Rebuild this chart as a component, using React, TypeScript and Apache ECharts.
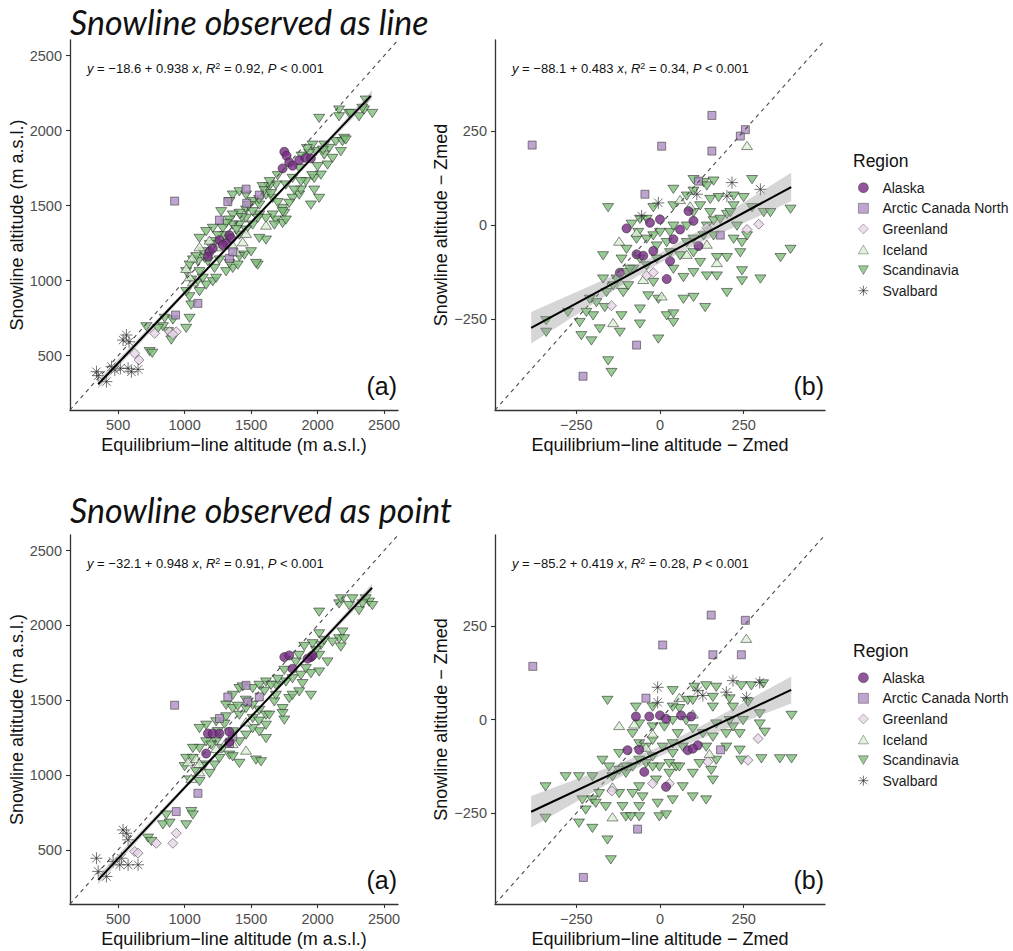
import React, { useEffect, useRef } from 'react';
import * as echarts from 'echarts';

const REGIONS = ['Alaska', 'Arctic Canada North', 'Greenland', 'Iceland', 'Scandinavia', 'Svalbard'];
const ABS_TICKS = [500, 1000, 1500, 2000, 2500];
const REL_TICKS = [-250, 0, 250];

// ---------- Snowline observed as line: absolute (a) ----------
const lineAbsAlaska = [[1750,1860],[1767,1833],[1787,1789],[1812,1767],[1737,1749],[1862,1804],[1912,1820],[1950,1816],[1187,1193],[1212,1216],[1262,1271],[1337,1304],[1350,1282],[1312,1249],[1175,1160],[1287,1238]];
const lineAbsArctic = [[925,1531],[932,771],[1100,849],[1262,1404],[1325,1527],[1462,1611],[1467,1516],[1562,1571],[1337,1149],[1362,1193]];
const lineAbsGreenland = [[625,516],[657,471],[775,649],[887,660],[937,660],[912,642]];
const lineAbsIceland = [[1057,1153],[1112,1227],[1187,1271],[1250,1227],[1362,1238],[1437,1260],[1387,1193],[1012,1082],[1062,993],[1037,1027],[1462,1316],[1612,1371]];
const lineAbsScandinavia = [[712,693],[737,527],[757,516],[875,660],[900,604],[1012,682],[837,693],[850,749],[800,682],[912,738],[1037,749],[1050,838],[1037,893],[1012,927],[1112,927],[1087,982],[1162,971],[1112,1060],[1012,1060],[1050,1004],[1137,1016],[1212,993],[1237,1016],[1225,1082],[1312,1060],[1362,1082],[1400,1104],[1450,1171],[1550,1104],[1537,1115],[1612,1271],[1687,1404],[1737,1382],[1750,1449],[1737,1482],[1662,1438],[1812,1549],[1862,1571],[1950,1504],[1875,1604],[1912,1660],[1975,1682],[2025,1704],[2075,1771],[2000,1760],[1987,1860],[2050,1904],[2137,1927],[2187,1927],[2012,2082],[2162,2138],[2237,2115],[2312,2093],[2350,2138],[2412,2115],[2362,2204],[2162,2093],[2200,1949],[2175,1860],[2087,1882],[1962,1904],[1937,1849],[1862,1749],[1812,1682],[1762,1638],[1687,1638],[1637,1627],[1587,1627],[1612,1571],[1562,1504],[1512,1527],[1462,1471],[1412,1449],[1362,1438],[1337,1404],[1412,1371],[1462,1416],[1562,1438],[1612,1416],[1737,1460],[1762,1404],[1512,1371],[1462,1338],[1412,1304],[1362,1371],[1312,1382],[1287,1349],[1212,1349],[1162,1327],[1112,1282],[1062,1138],[1100,1127],[1037,1104],[1175,1127],[1262,1138],[1337,1115],[1412,1160],[1500,1193],[1562,1282],[1662,1549],[1362,1571],[1412,1593],[1462,1571],[1337,1527],[1275,1460],[1512,1460],[1550,1416],[1675,1371],[1787,1516],[1825,1604],[1875,1660],[2012,1549],[1975,1604],[2050,1838],[2112,1816],[2212,1938],[2250,2115],[2337,2149],[1225,1260],[1137,1193],[1087,1160],[1600,1600],[1650,1580],[1700,1520],[1560,1540],[1480,1500],[1430,1420],[1390,1340],[1300,1300],[1250,1300],[1190,1240],[1150,1150],[1920,1880],[1880,1830],[2040,1870],[1700,1700],[1640,1660],[1960,1700]];
const lineAbsSvalbard = [[562,638],[537,604],[582,593],[450,427],[475,404],[337,393],[350,367],[412,327],[517,416],[600,393],[650,409],[575,416]];

// ---------- Snowline observed as line: relative (b) ----------
const lineRelAlaska = [[-100,-9],[-30,6],[0,15],[85,37],[100,11],[115,-56],[-70,-78],[-50,-82],[-20,-69],[-120,-127],[20,-144],[60,-12],[30,-96],[40,-38]];
const lineRelArctic = [[-382,213],[5,210],[155,292],[155,197],[240,237],[255,254],[115,117],[-45,82],[-70,-320],[-230,-403],[180,-27]];
const lineRelGreenland = [[-145,-215],[-40,-135],[-20,-127],[140,-7],[260,-12],[295,2]];
const lineRelIceland = [[260,212],[60,68],[-70,-20],[-122,-43],[-140,-260],[5,-189],[140,-51],[170,-100],[80,-78],[-50,-145],[90,51],[-115,-158]];
const lineRelScandinavia = [[-155,46],[-170,-82],[-340,-255],[-340,-286],[-275,-233],[-240,-260],[-235,-295],[-205,-309],[-200,-242],[-180,-277],[-165,-220],[-155,-362],[-145,-393],[-120,-286],[-115,-242],[-110,-180],[-170,-144],[-95,-162],[-80,-118],[-60,-91],[-60,-224],[-60,-264],[-35,-189],[-5,-198],[-5,-304],[20,-242],[40,-237],[40,-260],[-70,-38],[-100,-65],[-20,-29],[30,-20],[20,-47],[40,51],[80,77],[100,90],[130,113],[160,117],[175,73],[200,28],[220,51],[250,73],[275,121],[275,46],[310,33],[330,33],[390,42],[390,-65],[360,-87],[300,-144],[245,-122],[245,-149],[200,-180],[170,-136],[170,-87],[200,-87],[240,-74],[245,-47],[260,-29],[220,-38],[140,-136],[135,-220],[100,-193],[100,-127],[70,-140],[100,-74],[130,-29],[160,-29],[160,11],[120,51],[-20,46],[-40,15],[-65,-20],[-100,-127],[-140,-162],[-115,-91],[40,-118],[80,-3],[150,68],[230,-3],[120,-100],[70,-198],[-20,-153],[-85,2],[-60,15],[-40,-38],[0,-20],[40,-3],[80,-47],[30,-74],[-10,-91],[-40,-109],[-90,-118],[-130,-144],[-160,-180],[-190,-207],[-220,-233],[-210,-198],[-10,-56],[60,-82],[100,-38],[140,-3],[150,33],[180,15],[210,33],[220,77],[100,33],[40,95],[100,121],[140,104]];
const lineRelSvalbard = [[-55,24],[-5,59],[215,113],[300,95],[200,77],[110,82]];

// ---------- Snowline observed as point: absolute (a) ----------
const pointAbsAlaska = [[1175,1278],[1212,1278],[1262,1278],[1337,1289],[1162,1144],[1337,1222],[1750,1789],[1787,1800],[1812,1711],[1950,1789],[1962,1800],[1925,1778]];
const pointAbsArctic = [[925,1467],[937,756],[1100,878],[1262,1378],[1325,1522],[1462,1600],[1475,1489],[1337,1211],[1362,1256],[1562,1522]];
const pointAbsGreenland = [[625,489],[650,478],[787,544],[912,544],[937,611]];
const pointAbsIceland = [[1025,1089],[1087,1111],[1237,1178],[1362,1211],[1462,1167],[1050,978],[1112,1078],[1462,1356],[1312,1222],[1112,1022]];
const pointAbsScandinavia = [[725,578],[750,556],[837,667],[887,678],[862,733],[1012,667],[1050,756],[1062,733],[1037,967],[1087,1022],[1187,1011],[1150,1067],[1112,956],[1225,1067],[1262,1111],[1337,1133],[1412,1078],[1362,1122],[1537,1100],[1575,1089],[1612,1244],[1675,1489],[1737,1444],[1737,1411],[1750,1367],[1787,1511],[1862,1556],[1950,1533],[1887,1611],[1950,1678],[2012,1689],[2075,1756],[2012,1800],[2025,1867],[2162,1911],[2175,1856],[2187,1956],[2012,2089],[2162,2144],[2237,2133],[2312,2100],[2387,2156],[2412,2133],[1512,1578],[1512,1467],[1412,1578],[1362,1533],[1312,1467],[1362,1444],[1462,1444],[1562,1433],[1612,1400],[1412,1400],[1312,1389],[1237,1356],[1162,1333],[1112,1311],[1162,1222],[1237,1222],[1287,1178],[1112,1178],[1062,1178],[1012,1111],[1412,1222],[1462,1267],[1562,1289],[1612,1333],[1637,1400],[1562,1600],[1612,1622],[1687,1600],[1762,1622],[1812,1644],[1837,1756],[1875,1667],[1912,1711],[1812,1533],[1987,1833],[2112,1889],[2200,1911],[2362,2178],[2337,2144],[2262,2178],[2175,2178],[1962,1878],[2012,1944],[1362,1289],[1512,1311],[1512,1378],[1687,1533],[1437,1589],[1062,1111],[1000,1056],[1137,1056],[1600,1560],[1650,1600],[1700,1640],[1460,1500],[1400,1460],[1300,1340],[1250,1290],[1200,1200],[1900,1860],[1860,1800],[1750,1700],[1560,1360],[2050,1900]];
const pointAbsSvalbard = [[337,444],[562,611],[537,633],[575,567],[350,356],[412,322],[462,422],[512,400],[575,400],[650,400],[525,444]];

// ---------- Snowline observed as point: relative (b) ----------
const pointRelAlaska = [[-72,8],[-32,8],[0,11],[18,2],[63,11],[93,8],[-97,-82],[-62,-81],[-47,-140],[18,-180],[83,-82],[113,-69],[98,-78]];
const pointRelArctic = [[-380,142],[8,199],[153,279],[158,173],[243,173],[255,265],[-42,57],[181,-81],[-67,-293],[-229,-422]];
const pointRelGreenland = [[-144,-191],[-22,-171],[28,-171],[143,-113],[293,-51],[263,-109]];
const pointRelIceland = [[258,217],[-122,-16],[-77,-12],[58,59],[-22,-38],[-42,-74],[-142,-180],[-142,-260],[98,15],[148,-91]];
const pointRelScandinavia = [[-157,51],[-342,-180],[-342,-264],[-282,-153],[-242,-153],[-202,-153],[-202,-215],[-192,-224],[-242,-277],[-202,-291],[-157,-322],[-147,-375],[-102,-260],[-112,-233],[-87,-260],[-62,-260],[-62,-233],[-52,-207],[-7,-224],[-2,-260],[18,-255],[38,-215],[98,-207],[138,-215],[-62,-180],[-102,-144],[-82,-127],[-172,-109],[-152,-127],[-122,-136],[-42,-118],[-22,-100],[28,-118],[48,-127],[68,-180],[98,-144],[118,-118],[153,-136],[158,-162],[168,-109],[198,-74],[238,-82],[243,-109],[238,-38],[218,-20],[248,-3],[298,15],[298,-12],[313,-34],[358,-105],[393,-105],[393,11],[303,-105],[273,90],[308,95],[263,46],[243,90],[208,55],[168,86],[158,59],[138,90],[103,86],[83,51],[58,29],[38,33],[-22,33],[-72,33],[13,-20],[53,-38],[38,-65],[68,-74],[138,-74],[128,-38],[168,-12],[208,-3],[-82,-38],[-122,-91],[-62,-65],[-22,-56],[-2,-127],[-12,-162],[28,-144],[-82,-198],[-122,-198],[-232,-215],[98,-25],[158,-47],[-62,-12],[-22,-20],[38,-3],[78,-3],[-42,-74],[8,-74],[38,-91],[-102,-127],[-142,-153],[-182,-198],[-162,-233],[-222,-242],[98,51],[38,77],[158,33],[218,33],[-62,-109],[-22,-127],[58,-127],[198,-38]];
const pointRelSvalbard = [[-7,86],[-7,46],[218,104],[298,99],[198,73],[113,77],[128,64],[258,59]];

// fitted lines (coefficients as printed), x-extent of the fit, and read-off confidence half-widths
const fitIntercepts = [-18.6, -88.1, -32.1, -85.2];
const fitSlopes = [0.938, 0.483, 0.948, 0.419];
const fitRanges = [[350, 2400], [-385, 392], [350, 2410], [-385, 392]];
const bandXsAbs = [350, 1000, 1500, 2000, 2410];
const bandHwLineAbs = [30, 14, 10, 14, 28];
const bandHwPointAbs = [30, 14, 10, 14, 28];
const bandXsRel = [-385, -250, -125, 0, 125, 250, 392];
const bandHwLineRel = [42, 30, 19, 13, 17, 27, 38];
const bandHwPointRel = [42, 30, 19, 13, 17, 26, 36];

const eqTexts = [
  '{i|y} = −18.6 + 0.938 {i|x}, {i|R}{s|2} = 0.92, {i|P} < 0.001',
  '{i|y} = −88.1 + 0.483 {i|x}, {i|R}{s|2} = 0.34, {i|P} < 0.001',
  '{i|y} = −32.1 + 0.948 {i|x}, {i|R}{s|2} = 0.91, {i|P} < 0.001',
  '{i|y} = −85.2 + 0.419 {i|x}, {i|R}{s|2} = 0.28, {i|P} < 0.001',
];
const panelTags = ['(a)', '(b)', '(a)', '(b)'];
const blockTitles = ['Snowline observed as line', 'Snowline observed as point'];

const FONT = '"Liberation Sans", Arial, Helvetica, sans-serif';
const TRI_DOWN = 'path://M0 0 L10 0 L5 8.66 Z';
const TRI_UP = 'path://M5 0 L10 8.66 L0 8.66 Z';
const ASTER = 'path://M5 0 L5 10 M0 5 L10 5 M1.46 1.46 L8.54 8.54 M8.54 1.46 L1.46 8.54';

const REGION_STYLE: Record<string, any> = {
  Alaska: { symbol: 'circle', size: 9, color: '#762A83', border: '#222' },
  'Arctic Canada North': { symbol: 'rect', size: 8, color: '#AF8DC3', border: '#333' },
  Greenland: { symbol: 'diamond', size: 10, color: '#E7D4E8', border: '#444' },
  Iceland: { symbol: TRI_UP, size: [11, 9.5], color: '#D9F0D3', border: '#333' },
  Scandinavia: { symbol: TRI_DOWN, size: [11, 9.5], color: '#7FBF7B', border: '#222' },
  Svalbard: { symbol: ASTER, size: 12, color: 'rgba(0,0,0,0)', border: '#222' },
};
const DRAW_ORDER = ['Scandinavia', 'Iceland', 'Greenland', 'Arctic Canada North', 'Alaska', 'Svalbard'];

export default function App() {
  const ref = useRef<HTMLDivElement>(null);
  useEffect(() => {
    const chart = echarts.init(ref.current!, null, { renderer: 'svg' });
    const panels = [
      { grid: { left: 70, top: 40, width: 328, height: 370 }, abs: true, data: { Alaska: lineAbsAlaska, 'Arctic Canada North': lineAbsArctic, Greenland: lineAbsGreenland, Iceland: lineAbsIceland, Scandinavia: lineAbsScandinavia, Svalbard: lineAbsSvalbard }, bandHw: bandHwLineAbs },
      { grid: { left: 495, top: 40, width: 330, height: 370 }, abs: false, data: { Alaska: lineRelAlaska, 'Arctic Canada North': lineRelArctic, Greenland: lineRelGreenland, Iceland: lineRelIceland, Scandinavia: lineRelScandinavia, Svalbard: lineRelSvalbard }, bandHw: bandHwLineRel },
      { grid: { left: 70, top: 535, width: 328, height: 369 }, abs: true, data: { Alaska: pointAbsAlaska, 'Arctic Canada North': pointAbsArctic, Greenland: pointAbsGreenland, Iceland: pointAbsIceland, Scandinavia: pointAbsScandinavia, Svalbard: pointAbsSvalbard }, bandHw: bandHwPointAbs },
      { grid: { left: 495, top: 535, width: 330, height: 369 }, abs: false, data: { Alaska: pointRelAlaska, 'Arctic Canada North': pointRelArctic, Greenland: pointRelGreenland, Iceland: pointRelIceland, Scandinavia: pointRelScandinavia, Svalbard: pointRelSvalbard }, bandHw: bandHwPointRel },
    ];
    const fmt = (v: number) => (v < 0 ? '−' + Math.abs(v) : String(v));
    const axisCommon = (i: number, abs: boolean, isX: boolean) => {
      const ticks = abs ? ABS_TICKS : REL_TICKS;
      return {
        type: 'value',
        gridIndex: i,
        min: abs ? 138 : -493,
        max: abs ? 2605 : 493,
        axisLine: { show: true, onZero: false, lineStyle: { color: '#333', width: 1.3 } },
        axisTick: { show: true, length: 4, customValues: ticks, lineStyle: { color: '#333', width: 1.1 } },
        axisLabel: { customValues: ticks, formatter: fmt, color: '#4d4d4d', fontSize: 14.5, fontFamily: FONT, margin: isX ? 7 : 8 },
        splitLine: { show: false },
        nameLocation: 'middle',
        nameTextStyle: { fontSize: 18, color: '#111', fontFamily: FONT },
      };
    };
    const xAxis = panels.map((p, i) => ({
      ...axisCommon(i, p.abs, true),
      name: p.abs ? 'Equilibrium−line altitude (m a.s.l.)' : 'Equilibrium−line altitude − Zmed',
      nameGap: 26,
    }));
    const yAxis = panels.map((p, i) => ({
      ...axisCommon(i, p.abs, false),
      name: p.abs ? 'Snowline altitude (m a.s.l.)' : 'Snowline altitude − Zmed',
      nameGap: p.abs ? 44 : 38,
    }));
    const series: any[] = [];
    panels.forEach((p, i) => {
      DRAW_ORDER.forEach((r) => {
        const st = REGION_STYLE[r];
        series.push({
          type: 'scatter', name: r, xAxisIndex: i, yAxisIndex: i, z: 2,
          symbol: st.symbol, symbolSize: st.size, symbolKeepAspect: true,
          itemStyle: { color: st.color, borderColor: st.border, borderWidth: r === 'Svalbard' ? 0.8 : 0.7, opacity: 0.8 },
          data: (p.data as any)[r],
        });
      });
      const lo = p.abs ? 138 : -493;
      const hi = p.abs ? 2605 : 493;
      series.push({
        type: 'line', xAxisIndex: i, yAxisIndex: i, z: 3, symbol: 'none', silent: true,
        lineStyle: { color: '#4a4a4a', width: 1.1, type: [4, 4] },
        data: [[lo, lo], [hi, hi]],
      });
      const a = fitIntercepts[i], b = fitSlopes[i];
      const bxs = p.abs ? bandXsAbs : bandXsRel;
      const hw = p.bandHw;
      series.push({
        type: 'custom', xAxisIndex: i, yAxisIndex: i, z: 4, silent: true,
        data: [[bxs[0], a + b * bxs[0]]],
        renderItem: (_params: any, api: any) => {
          const up = bxs.map((x, j) => api.coord([x, a + b * x + hw[j]]));
          const dn = bxs.map((x, j) => api.coord([x, a + b * x - hw[j]])).reverse();
          return { type: 'polygon', shape: { points: up.concat(dn) }, style: { fill: 'rgba(153,153,153,0.4)' } };
        },
      });
      const [x0, x1] = fitRanges[i];
      series.push({
        type: 'line', xAxisIndex: i, yAxisIndex: i, z: 5, symbol: 'none', silent: true,
        lineStyle: { color: '#000', width: 2 },
        data: [[x0, a + b * x0], [x1, a + b * x1]],
      });
    });

    const graphic: any[] = [];
    blockTitles.forEach((t, k) => {
      graphic.push({ type: 'text', x: 70, y: 21 + 488 * k, style: { text: t, fontFamily: 'Lato, "Open Sans", sans-serif', fontStyle: 'italic', fontSize: 34, fill: '#111', verticalAlign: 'middle', align: 'left' } });
      graphic.push({ type: 'text', x: 853, y: 161 + 490 * k, style: { text: 'Region', fontFamily: FONT, fontSize: 17.5, fill: '#111', verticalAlign: 'middle', align: 'left' } });
    });
    panels.forEach((p, i) => {
      const top = p.grid.top;
      graphic.push({
        type: 'text', x: p.grid.left + 17, y: top + 28,
        style: {
          text: eqTexts[i], fontFamily: FONT, fontSize: 13, fill: '#111', verticalAlign: 'middle', align: 'left',
          rich: {
            i: { fontStyle: 'italic', fontFamily: FONT, fontSize: 13, fill: '#111' },
            s: { fontSize: 9, fontFamily: FONT, fill: '#111', verticalAlign: 'top', padding: [0, 0, 4, 0] },
          },
        },
      });
      graphic.push({
        type: 'text', x: p.grid.left + p.grid.width - 1, y: top + p.grid.height - 24,
        style: { text: panelTags[i], fontFamily: FONT, fontSize: 25, fill: '#111', verticalAlign: 'middle', align: 'right' },
      });
    });

    const legendData = REGIONS.map((r) => {
      const st = REGION_STYLE[r];
      return {
        name: r,
        icon: st.symbol,
        itemStyle: { color: st.color, borderColor: st.border, borderWidth: r === 'Svalbard' ? 0.8 : 0.5, opacity: 0.8 },
      };
    });

    chart.setOption({
      animation: false,
      backgroundColor: '#fff',
      grid: panels.map((p) => p.grid),
      xAxis, yAxis, series, graphic,
      legend: [0, 1].map((k) => ({
        data: legendData, orient: 'vertical', left: 858, top: 177.4 + 490 * k,
        itemWidth: 10, itemHeight: 10, itemGap: 0, padding: 0, selectedMode: false,
        textStyle: { fontSize: 14, color: '#1a1a1a', fontFamily: FONT, lineHeight: 20.6, padding: [0, 0, 0, 9] },
      })),
    });
    return () => chart.dispose();
  }, []);
  return <div ref={ref} style={{ position: 'fixed', left: 0, top: 0, width: 1013, height: 951, background: '#fff' }} />;
}
